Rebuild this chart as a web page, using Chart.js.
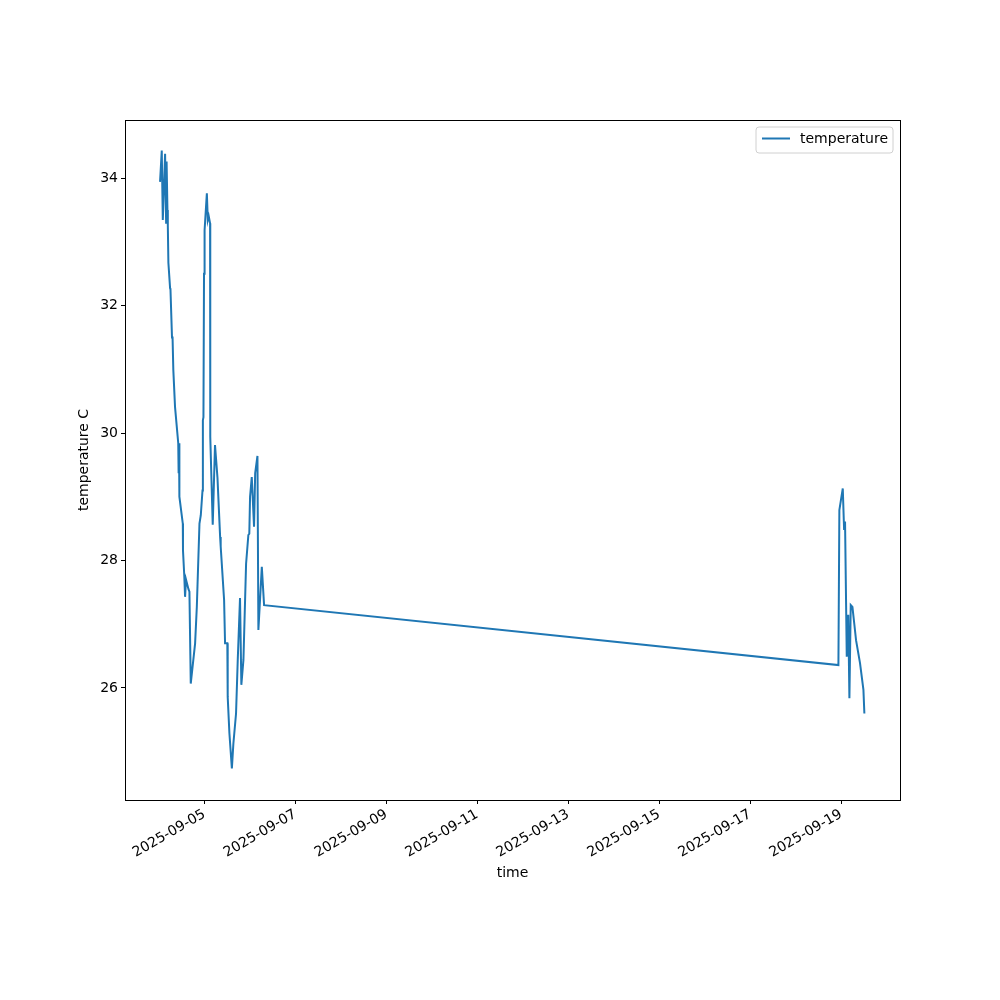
<!DOCTYPE html>
<html>
<head>
<meta charset="utf-8">
<script src="https://cdn.jsdelivr.net/npm/chart.js@4/dist/chart.umd.min.js"></script>
<style>
  html, body { margin: 0; padding: 0; background: #fff; }
  #wrap { width: 1000px; height: 1000px; }
</style>
</head>
<body>
<div id="wrap"><canvas id="temp-chart" width="1000" height="1000"></canvas></div>
<script>
// hours since 2025-09-04 00:00
const hours = [0.6, 1.5, 2.05, 3.26, 3.8, 4.05, 4.5, 4.7, 5.0, 5.9, 6.1, 6.9, 7.2, 7.6, 8.5,
  10.2, 10.4, 10.6, 10.8, 12.6, 12.7, 13.4, 13.8, 14.3, 15.6, 16.1, 16.8, 19.1, 20.0, 21.4,
  22.1, 23.0, 23.2, 23.5, 23.8, 24.1, 25.3, 25.8, 26.3, 27.0, 27.1, 28.4, 29.6, 30.9, 32.3,
  32.6, 34.4, 34.9, 36.1, 36.3, 37.2, 38.5, 39.3, 40.7, 41.6, 42.8, 43.5, 44.6, 46.0, 47.2,
  47.7, 48.1, 49.0, 50.2, 50.8, 52.0, 52.5, 54.3, 55.5,
  358.6, 359.1, 360.9, 361.6, 362.1, 363.0, 363.8, 364.4, 365.1, 366.0, 367.0, 367.9,
  370.0, 371.8, 372.3];
const temperature = [33.94, 34.43, 33.34, 34.38, 33.3, 34.26, 33.5, 33.25, 32.67, 32.27, 32.25, 31.5, 31.5, 30.99, 30.41,
  29.84, 29.37, 29.84, 29.0, 28.58, 28.16, 27.75, 27.43, 27.7, 27.55, 27.51, 26.07, 26.70, 27.27, 28.58,
  28.71, 29.1, 30.2, 30.25, 32.5, 33.18, 33.76, 33.34, 33.4, 33.29, 29.94, 28.56, 29.81, 29.3, 28.37,
  28.22, 27.38, 26.70, 26.70, 25.86, 25.29, 24.74, 25.13, 25.6, 26.44, 27.41, 26.05, 26.44, 27.95, 28.4,
  28.42, 29.0, 29.31, 28.53, 29.37, 29.64, 26.91, 27.90, 27.30,
  26.36, 28.79, 29.13, 28.48, 28.61, 26.49, 27.15, 25.84, 27.30, 27.27, 27.0, 26.75,
  26.39, 25.97, 25.6];
const xTickHours = [24, 72, 120, 168, 216, 264, 312, 360];
const xTickLabels = ['2025-09-05', '2025-09-07', '2025-09-09', '2025-09-11',
  '2025-09-13', '2025-09-15', '2025-09-17', '2025-09-19'];
const yTicks = [26, 28, 30, 32, 34];

const FONT = 'DejaVu Sans';
const points = hours.map((h, i) => ({ x: h, y: temperature[i] }));

const framePlugin = {
  id: 'frame',
  afterDraw(chart) {
    const { ctx, chartArea: a } = chart;
    ctx.save();
    ctx.strokeStyle = '#000';
    ctx.lineWidth = 1;
    ctx.strokeRect(a.left + 0.5, a.top + 0.5, a.right - a.left, a.bottom - a.top);

    // axis titles
    ctx.fillStyle = '#000';
    ctx.font = '14px ' + FONT;
    ctx.textAlign = 'center';
    ctx.textBaseline = 'middle';
    ctx.fillText('time', (a.left + a.right) / 2, 873);
    ctx.translate(84, (a.top + a.bottom) / 2);
    ctx.rotate(-Math.PI / 2);
    ctx.fillText('temperature C', 0, 0);
    ctx.restore();

    // legend inside top right
    ctx.save();
    const bx = 756, by = 127, bw = 137, bh = 26, r = 3;
    ctx.beginPath();
    ctx.moveTo(bx + r, by);
    ctx.arcTo(bx + bw, by, bx + bw, by + bh, r);
    ctx.arcTo(bx + bw, by + bh, bx, by + bh, r);
    ctx.arcTo(bx, by + bh, bx, by, r);
    ctx.arcTo(bx, by, bx + bw, by, r);
    ctx.closePath();
    ctx.fillStyle = 'rgba(255,255,255,0.8)';
    ctx.fill();
    ctx.strokeStyle = '#d0d0d0';
    ctx.lineWidth = 1;
    ctx.stroke();
    ctx.strokeStyle = '#1f77b4';
    ctx.lineWidth = 2;
    ctx.beginPath();
    ctx.moveTo(762, 138.5);
    ctx.lineTo(790, 138.5);
    ctx.stroke();
    ctx.fillStyle = '#000';
    ctx.font = '14px ' + FONT;
    ctx.textAlign = 'left';
    ctx.textBaseline = 'middle';
    ctx.fillText(chart.data.datasets[0].label, 800, 139);
    ctx.restore();
  }
};

new Chart(document.getElementById('temp-chart').getContext('2d'), {
  type: 'line',
  data: {
    datasets: [{
      label: 'temperature',
      data: points,
      borderColor: '#1f77b4',
      borderWidth: 2,
      pointRadius: 0,
      tension: 0,
      fill: false
    }]
  },
  options: {
    responsive: false,
    animation: false,
    layout: { padding: { top: 120, right: 100, left: 0, bottom: 0 } },
    plugins: { legend: { display: false }, tooltip: { enabled: false } },
    scales: {
      x: {
        type: 'linear',
        min: -17.9,
        max: 391.1,
        afterBuildTicks: s => { s.ticks = xTickHours.map(v => ({ value: v })); },
        afterFit: s => { s.height = 200; },
        ticks: {
          autoSkip: false,
          maxRotation: 30,
          minRotation: 30,
          padding: 2,
          color: '#000',
          font: { family: FONT, size: 14 },
          callback: v => xTickLabels[xTickHours.indexOf(v)]
        },
        grid: { drawOnChartArea: false, drawTicks: true, tickLength: 4, color: '#000' },
        border: { display: true, color: '#000' }
      },
      y: {
        type: 'linear',
        min: 24.243,
        max: 34.91,
        afterBuildTicks: s => { s.ticks = yTicks.map(v => ({ value: v })); },
        afterFit: s => { s.width = 125; },
        ticks: {
          padding: 3,
          color: '#000',
          font: { family: FONT, size: 14 },
          callback: v => String(v)
        },
        grid: { drawOnChartArea: false, drawTicks: true, tickLength: 4, color: '#000' },
        border: { display: true, color: '#000' }
      }
    }
  },
  plugins: [framePlugin]
});
</script>
</body>
</html>
